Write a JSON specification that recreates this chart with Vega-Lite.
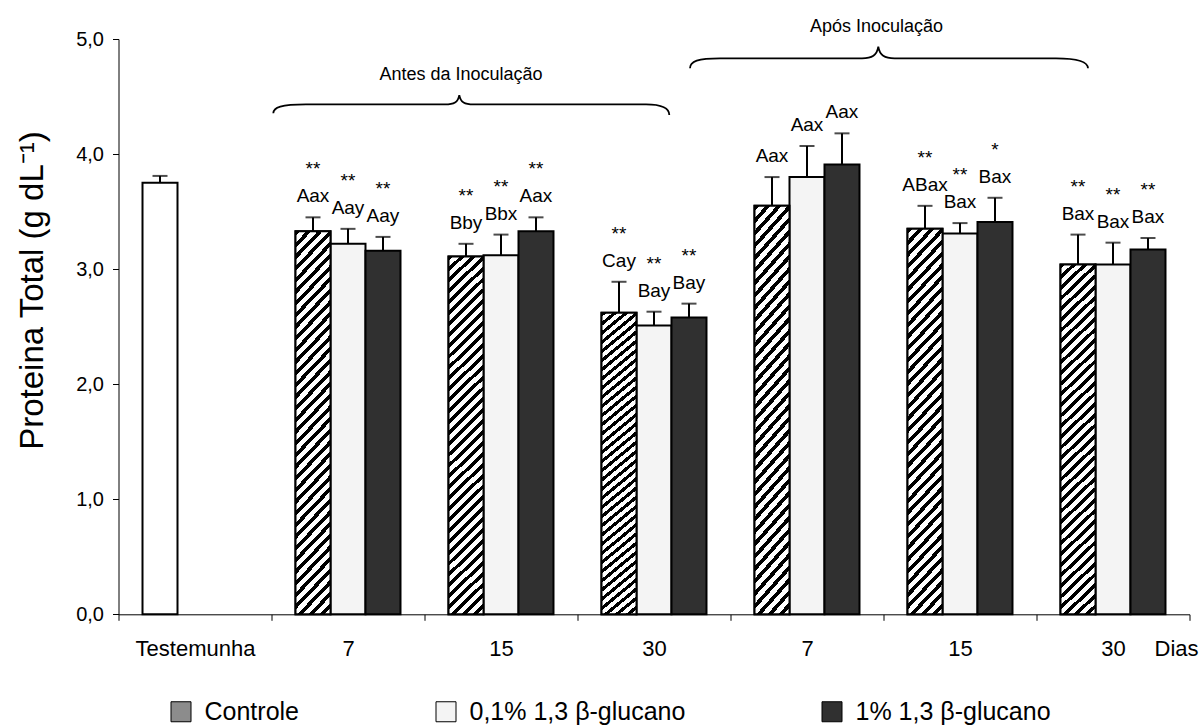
{
  "$schema": "https://vega.github.io/schema/vega-lite/v6.json",
  "width": 1071,
  "height": 575.3,
  "autosize": {"type": "none"},
  "padding": {"left": 118.5, "top": 39, "right": 12.5, "bottom": 112.7},
  "background": "white",
  "config": {
    "font": "Liberation Sans",
    "view": {"stroke": null},
    "axis": {"domainColor": "black", "tickColor": "black", "labelColor": "black", "titleColor": "black", "grid": false, "titleFontWeight": "normal"}
  },
  "datasets": {
    "proteina": [
      {"dia": "Testemunha", "trat": "Controle", "media": 3.75, "dp": 0.06, "letras": "", "sig": ""},
      {"dia": "A 7", "trat": "Controle", "media": 3.33, "dp": 0.12, "letras": "Aax", "sig": "**"},
      {"dia": "A 7", "trat": "0,1% 1,3 β-glucano", "media": 3.22, "dp": 0.13, "letras": "Aay", "sig": "**"},
      {"dia": "A 7", "trat": "1% 1,3 β-glucano", "media": 3.16, "dp": 0.12, "letras": "Aay", "sig": "**"},
      {"dia": "A 15", "trat": "Controle", "media": 3.11, "dp": 0.11, "letras": "Bby", "sig": "**"},
      {"dia": "A 15", "trat": "0,1% 1,3 β-glucano", "media": 3.12, "dp": 0.18, "letras": "Bbx", "sig": "**"},
      {"dia": "A 15", "trat": "1% 1,3 β-glucano", "media": 3.33, "dp": 0.12, "letras": "Aax", "sig": "**"},
      {"dia": "A 30", "trat": "Controle", "media": 2.62, "dp": 0.27, "letras": "Cay", "sig": "**"},
      {"dia": "A 30", "trat": "0,1% 1,3 β-glucano", "media": 2.51, "dp": 0.12, "letras": "Bay", "sig": "**"},
      {"dia": "A 30", "trat": "1% 1,3 β-glucano", "media": 2.58, "dp": 0.12, "letras": "Bay", "sig": "**"},
      {"dia": "B 7", "trat": "Controle", "media": 3.55, "dp": 0.25, "letras": "Aax", "sig": ""},
      {"dia": "B 7", "trat": "0,1% 1,3 β-glucano", "media": 3.8, "dp": 0.27, "letras": "Aax", "sig": ""},
      {"dia": "B 7", "trat": "1% 1,3 β-glucano", "media": 3.91, "dp": 0.27, "letras": "Aax", "sig": ""},
      {"dia": "B 15", "trat": "Controle", "media": 3.35, "dp": 0.2, "letras": "ABax", "sig": "**"},
      {"dia": "B 15", "trat": "0,1% 1,3 β-glucano", "media": 3.31, "dp": 0.09, "letras": "Bax", "sig": "**"},
      {"dia": "B 15", "trat": "1% 1,3 β-glucano", "media": 3.41, "dp": 0.21, "letras": "Bax", "sig": "*"},
      {"dia": "B 30", "trat": "Controle", "media": 3.04, "dp": 0.26, "letras": "Bax", "sig": "**"},
      {"dia": "B 30", "trat": "0,1% 1,3 β-glucano", "media": 3.04, "dp": 0.19, "letras": "Bax", "sig": "**"},
      {"dia": "B 30", "trat": "1% 1,3 β-glucano", "media": 3.17, "dp": 0.1, "letras": "Bax", "sig": "**"}
    ],
    "antes": [{"dia": "A 15", "fase": "Antes da Inoculação"}],
    "apos": [{"dia": "B 15", "fase": "Após Inoculação"}]
  },
  "encoding": {
    "x": {
      "field": "dia", "type": "nominal",
      "sort": ["Testemunha", "A 7", "A 15", "A 30", "B 7", "B 15", "B 30"],
      "scale": {"domain": ["Testemunha", "A 7", "A 15", "A 30", "B 7", "B 15", "B 30"], "paddingInner": 0, "paddingOuter": 0},
      "axis": {
        "title": "Dias", "titleFontSize": 22, "titleX": 1057.5, "titleY": 40.7, "titleAlign": "center", "titleBaseline": "alphabetic", "titleAnchor": null,
        "labelFontSize": 22, "labelAngle": 0, "labelBaseline": "alphabetic", "labelPadding": 35,
        "labelExpr": "indexof(datum.label, ' ') > 0 ? split(datum.label, ' ')[1] : datum.label",
        "tickBand": "extent", "tickSize": 6, "domainWidth": 1
      }
    }
  },
  "layer": [
    {
      "data": {"name": "proteina"},
      "transform": [{"calculate": "datum.media + datum.dp", "as": "sup"}],
      "encoding": {
        "xOffset": {
          "field": "trat", "type": "nominal",
          "sort": ["Controle", "0,1% 1,3 β-glucano", "1% 1,3 β-glucano"],
          "scale": {"domain": ["Controle", "0,1% 1,3 β-glucano", "1% 1,3 β-glucano"], "paddingInner": 0, "paddingOuter": 0.686}
        },
        "y": {
          "field": "media", "type": "quantitative",
          "scale": {"domain": [0, 5], "nice": false},
          "axis": {
            "title": "Proteina Total (g dL⁻¹)", "titleFontSize": 33, "titleAngle": -90, "titleX": -76, "titleY": 251, "titleAlign": "center", "titleBaseline": "alphabetic",
            "values": [0, 1, 2, 3, 4, 5], "labelFontSize": 20, "labelPadding": 9, "tickSize": 6,
            "labelExpr": "replace(format(datum.value, '.1f'), '.', ',')"
          }
        }
      },
      "layer": [
        {
          "mark": {"type": "bar", "stroke": "black", "strokeWidth": 2},
          "encoding": {
            "fill": {
              "field": "trat", "type": "nominal",
              "condition": {"test": "datum.dia === 'Testemunha'", "value": "white"},
              "scale": {"domain": ["Controle", "0,1% 1,3 β-glucano", "1% 1,3 β-glucano"], "range": ["#8c8c8c", "#f4f4f4", "#303030"]},
              "legend": {
                "title": null, "orient": "none", "legendX": 50, "legendY": 660, "direction": "horizontal",
                "symbolType": "square", "symbolSize": 400, "symbolStrokeColor": "black", "symbolStrokeWidth": 1,
                "labelFontSize": 25, "labelOffset": 11, "columnPadding": 134, "labelLimit": 400, "labelColor": "black"
              }
            }
          }
        },
        {
          "transform": [{"filter": "datum.trat === 'Controle' && datum.dia !== 'Testemunha'"}],
          "mark": {
            "type": "bar", "stroke": "black", "strokeWidth": 2,
            "fill": {
              "gradient": "linear", "x1": 0, "y1": 0, "x2": 0.1041, "y2": 1.0859,
              "stops": [
                {"offset": 0, "color": "#000"}, {"offset": 0.0125, "color": "#000"}, {"offset": 0.0125, "color": "#fff"}, {"offset": 0.0278, "color": "#fff"},
                {"offset": 0.0278, "color": "#000"}, {"offset": 0.0403, "color": "#000"}, {"offset": 0.0403, "color": "#fff"}, {"offset": 0.0556, "color": "#fff"},
                {"offset": 0.0556, "color": "#000"}, {"offset": 0.0681, "color": "#000"}, {"offset": 0.0681, "color": "#fff"}, {"offset": 0.0833, "color": "#fff"},
                {"offset": 0.0833, "color": "#000"}, {"offset": 0.0958, "color": "#000"}, {"offset": 0.0958, "color": "#fff"}, {"offset": 0.1111, "color": "#fff"},
                {"offset": 0.1111, "color": "#000"}, {"offset": 0.1236, "color": "#000"}, {"offset": 0.1236, "color": "#fff"}, {"offset": 0.1389, "color": "#fff"},
                {"offset": 0.1389, "color": "#000"}, {"offset": 0.1514, "color": "#000"}, {"offset": 0.1514, "color": "#fff"}, {"offset": 0.1667, "color": "#fff"},
                {"offset": 0.1667, "color": "#000"}, {"offset": 0.1792, "color": "#000"}, {"offset": 0.1792, "color": "#fff"}, {"offset": 0.1944, "color": "#fff"},
                {"offset": 0.1944, "color": "#000"}, {"offset": 0.2069, "color": "#000"}, {"offset": 0.2069, "color": "#fff"}, {"offset": 0.2222, "color": "#fff"},
                {"offset": 0.2222, "color": "#000"}, {"offset": 0.2347, "color": "#000"}, {"offset": 0.2347, "color": "#fff"}, {"offset": 0.25, "color": "#fff"},
                {"offset": 0.25, "color": "#000"}, {"offset": 0.2625, "color": "#000"}, {"offset": 0.2625, "color": "#fff"}, {"offset": 0.2778, "color": "#fff"},
                {"offset": 0.2778, "color": "#000"}, {"offset": 0.2903, "color": "#000"}, {"offset": 0.2903, "color": "#fff"}, {"offset": 0.3056, "color": "#fff"},
                {"offset": 0.3056, "color": "#000"}, {"offset": 0.3181, "color": "#000"}, {"offset": 0.3181, "color": "#fff"}, {"offset": 0.3333, "color": "#fff"},
                {"offset": 0.3333, "color": "#000"}, {"offset": 0.3458, "color": "#000"}, {"offset": 0.3458, "color": "#fff"}, {"offset": 0.3611, "color": "#fff"},
                {"offset": 0.3611, "color": "#000"}, {"offset": 0.3736, "color": "#000"}, {"offset": 0.3736, "color": "#fff"}, {"offset": 0.3889, "color": "#fff"},
                {"offset": 0.3889, "color": "#000"}, {"offset": 0.4014, "color": "#000"}, {"offset": 0.4014, "color": "#fff"}, {"offset": 0.4167, "color": "#fff"},
                {"offset": 0.4167, "color": "#000"}, {"offset": 0.4292, "color": "#000"}, {"offset": 0.4292, "color": "#fff"}, {"offset": 0.4444, "color": "#fff"},
                {"offset": 0.4444, "color": "#000"}, {"offset": 0.4569, "color": "#000"}, {"offset": 0.4569, "color": "#fff"}, {"offset": 0.4722, "color": "#fff"},
                {"offset": 0.4722, "color": "#000"}, {"offset": 0.4847, "color": "#000"}, {"offset": 0.4847, "color": "#fff"}, {"offset": 0.5, "color": "#fff"},
                {"offset": 0.5, "color": "#000"}, {"offset": 0.5125, "color": "#000"}, {"offset": 0.5125, "color": "#fff"}, {"offset": 0.5278, "color": "#fff"},
                {"offset": 0.5278, "color": "#000"}, {"offset": 0.5403, "color": "#000"}, {"offset": 0.5403, "color": "#fff"}, {"offset": 0.5556, "color": "#fff"},
                {"offset": 0.5556, "color": "#000"}, {"offset": 0.5681, "color": "#000"}, {"offset": 0.5681, "color": "#fff"}, {"offset": 0.5833, "color": "#fff"},
                {"offset": 0.5833, "color": "#000"}, {"offset": 0.5958, "color": "#000"}, {"offset": 0.5958, "color": "#fff"}, {"offset": 0.6111, "color": "#fff"},
                {"offset": 0.6111, "color": "#000"}, {"offset": 0.6236, "color": "#000"}, {"offset": 0.6236, "color": "#fff"}, {"offset": 0.6389, "color": "#fff"},
                {"offset": 0.6389, "color": "#000"}, {"offset": 0.6514, "color": "#000"}, {"offset": 0.6514, "color": "#fff"}, {"offset": 0.6667, "color": "#fff"},
                {"offset": 0.6667, "color": "#000"}, {"offset": 0.6792, "color": "#000"}, {"offset": 0.6792, "color": "#fff"}, {"offset": 0.6944, "color": "#fff"},
                {"offset": 0.6944, "color": "#000"}, {"offset": 0.7069, "color": "#000"}, {"offset": 0.7069, "color": "#fff"}, {"offset": 0.7222, "color": "#fff"},
                {"offset": 0.7222, "color": "#000"}, {"offset": 0.7347, "color": "#000"}, {"offset": 0.7347, "color": "#fff"}, {"offset": 0.75, "color": "#fff"},
                {"offset": 0.75, "color": "#000"}, {"offset": 0.7625, "color": "#000"}, {"offset": 0.7625, "color": "#fff"}, {"offset": 0.7778, "color": "#fff"},
                {"offset": 0.7778, "color": "#000"}, {"offset": 0.7903, "color": "#000"}, {"offset": 0.7903, "color": "#fff"}, {"offset": 0.8056, "color": "#fff"},
                {"offset": 0.8056, "color": "#000"}, {"offset": 0.8181, "color": "#000"}, {"offset": 0.8181, "color": "#fff"}, {"offset": 0.8333, "color": "#fff"},
                {"offset": 0.8333, "color": "#000"}, {"offset": 0.8458, "color": "#000"}, {"offset": 0.8458, "color": "#fff"}, {"offset": 0.8611, "color": "#fff"},
                {"offset": 0.8611, "color": "#000"}, {"offset": 0.8736, "color": "#000"}, {"offset": 0.8736, "color": "#fff"}, {"offset": 0.8889, "color": "#fff"},
                {"offset": 0.8889, "color": "#000"}, {"offset": 0.9014, "color": "#000"}, {"offset": 0.9014, "color": "#fff"}, {"offset": 0.9167, "color": "#fff"},
                {"offset": 0.9167, "color": "#000"}, {"offset": 0.9292, "color": "#000"}, {"offset": 0.9292, "color": "#fff"}, {"offset": 0.9444, "color": "#fff"},
                {"offset": 0.9444, "color": "#000"}, {"offset": 0.9569, "color": "#000"}, {"offset": 0.9569, "color": "#fff"}, {"offset": 0.9722, "color": "#fff"},
                {"offset": 0.9722, "color": "#000"}, {"offset": 0.9847, "color": "#000"}, {"offset": 0.9847, "color": "#fff"}, {"offset": 1, "color": "#fff"}
              ]
            }
          }
        },
        {
          "mark": {"type": "rule", "strokeWidth": 2, "color": "black"},
          "encoding": {"y2": {"field": "sup"}}
        },
        {
          "mark": {"type": "tick", "thickness": 2, "size": 15, "color": "black"},
          "encoding": {"y": {"field": "sup", "type": "quantitative"}}
        },
        {
          "mark": {"type": "text", "baseline": "alphabetic", "dy": -15, "fontSize": 19, "color": "black"},
          "encoding": {"y": {"field": "sup", "type": "quantitative"}, "text": {"field": "letras"}}
        },
        {
          "mark": {"type": "text", "baseline": "alphabetic", "dy": -42, "fontSize": 19, "color": "black"},
          "encoding": {"y": {"field": "sup", "type": "quantitative"}, "text": {"field": "sig"}}
        }
      ]
    },
    {
      "data": {"name": "antes"},
      "mark": {
        "type": "point", "filled": false, "stroke": "black", "strokeWidth": 1.8, "opacity": 1, "size": 40000,
        "shape": "M -2.277 0.09 C -2.277 0.03 -2.2 0 -1.95 0 L -0.56 0 C -0.47 0 -0.43 -0.02 -0.417 -0.093 C -0.404 -0.02 -0.364 0 -0.274 0 L 1.45 0 C 1.6 0 1.683 0.03 1.683 0.107"
      },
      "encoding": {"y": {"datum": 4.432, "type": "quantitative"}}
    },
    {
      "data": {"name": "apos"},
      "mark": {
        "type": "point", "filled": false, "stroke": "black", "strokeWidth": 1.8, "opacity": 1, "size": 40000,
        "shape": "M -2.7 0.1 C -2.7 0.03 -2.62 0 -2.4 0 L -0.98 0 C -0.88 0 -0.83 -0.03 -0.817 -0.116 C -0.804 -0.03 -0.754 0 -0.654 0 L 0.96 0 C 1.16 0 1.28 0.03 1.28 0.1"
      },
      "encoding": {"y": {"datum": 4.832, "type": "quantitative"}}
    },
    {
      "data": {"name": "antes"},
      "mark": {"type": "text", "fontSize": 18, "baseline": "alphabetic", "dx": -40, "color": "black"},
      "encoding": {"y": {"datum": 4.64, "type": "quantitative"}, "text": {"field": "fase"}}
    },
    {
      "data": {"name": "apos"},
      "mark": {"type": "text", "fontSize": 18, "baseline": "alphabetic", "dx": -83.5, "color": "black"},
      "encoding": {"y": {"datum": 5.063, "type": "quantitative"}, "text": {"field": "fase"}}
    }
  ]
}
